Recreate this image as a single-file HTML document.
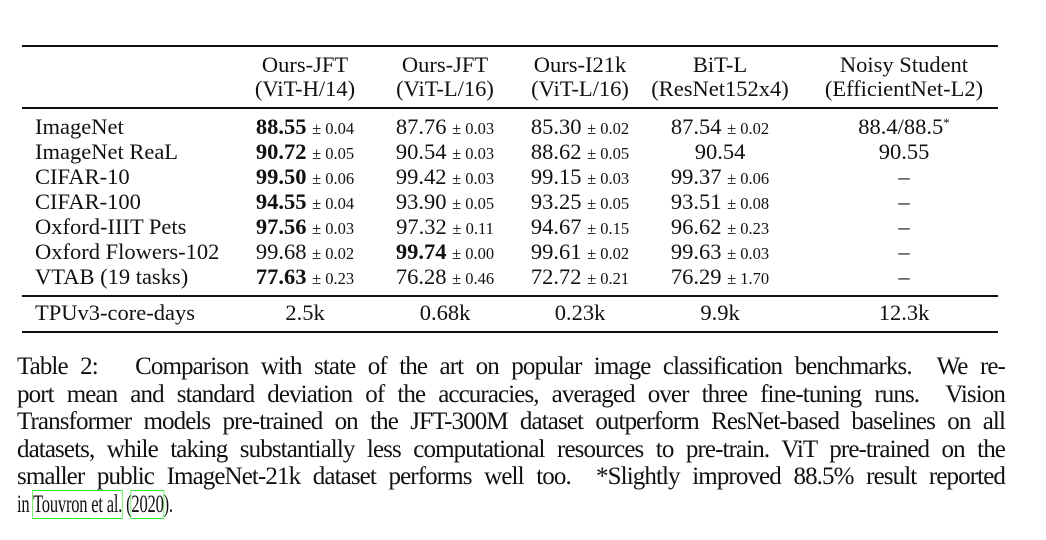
<!DOCTYPE html>
<html><head><meta charset="utf-8"><style>
body{margin:0;width:1046px;height:540px;background:#fff;position:relative;font-family:"Liberation Serif",serif;color:#111;overflow:hidden}
.r{position:absolute;left:22px;width:976px;background:#111}
.c{position:absolute;transform:translateX(-50%);white-space:nowrap;font-size:22.5px;line-height:24px}
.l{position:absolute;left:35px;white-space:nowrap;font-size:22.5px;line-height:24px}
.s{font-size:16.5px}
b{font-weight:bold}
.cap{position:absolute;left:17px;width:988px;font-size:25px;line-height:27.6px;top:353px;text-align:justify;text-align-last:justify;letter-spacing:-0.9px;word-spacing:-2px}
.cap div{white-space:nowrap;height:27.6px}
.box{outline:1.5px solid #2ee82e;outline-offset:0}
</style></head><body>
<div class="r" style="top:45px;height:2px"></div>
<div class="r" style="top:107px;height:1.5px"></div>
<div class="r" style="top:295px;height:1.5px"></div>
<div class="r" style="top:331px;height:2px"></div>

<div class="c" style="left:305px;top:53px">Ours-JFT</div>
<div class="c" style="left:305px;top:77px">(ViT-H/14)</div>
<div class="c" style="left:445px;top:53px">Ours-JFT</div>
<div class="c" style="left:445px;top:77px">(ViT-L/16)</div>
<div class="c" style="left:580px;top:53px">Ours-I21k</div>
<div class="c" style="left:580px;top:77px">(ViT-L/16)</div>
<div class="c" style="left:720px;top:53px">BiT-L</div>
<div class="c" style="left:720px;top:77px">(ResNet152x4)</div>
<div class="c" style="left:904px;top:53px">Noisy Student</div>
<div class="c" style="left:904px;top:77px">(EfficientNet-L2)</div>

<div class="l" style="top:115px">ImageNet</div>
<div class="l" style="top:140px">ImageNet ReaL</div>
<div class="l" style="top:165px">CIFAR-10</div>
<div class="l" style="top:190px">CIFAR-100</div>
<div class="l" style="top:215px">Oxford-IIIT Pets</div>
<div class="l" style="top:240px">Oxford Flowers-102</div>
<div class="l" style="top:265px">VTAB (19 tasks)</div>
<div class="l" style="top:301px">TPUv3-core-days</div>

<div class="c" style="left:305px;top:115px"><b>88.55</b> <span class="s">± 0.04</span></div>
<div class="c" style="left:305px;top:140px"><b>90.72</b> <span class="s">± 0.05</span></div>
<div class="c" style="left:305px;top:165px"><b>99.50</b> <span class="s">± 0.06</span></div>
<div class="c" style="left:305px;top:190px"><b>94.55</b> <span class="s">± 0.04</span></div>
<div class="c" style="left:305px;top:215px"><b>97.56</b> <span class="s">± 0.03</span></div>
<div class="c" style="left:305px;top:240px">99.68 <span class="s">± 0.02</span></div>
<div class="c" style="left:305px;top:265px"><b>77.63</b> <span class="s">± 0.23</span></div>
<div class="c" style="left:305px;top:301px">2.5k</div>

<div class="c" style="left:445px;top:115px">87.76 <span class="s">± 0.03</span></div>
<div class="c" style="left:445px;top:140px">90.54 <span class="s">± 0.03</span></div>
<div class="c" style="left:445px;top:165px">99.42 <span class="s">± 0.03</span></div>
<div class="c" style="left:445px;top:190px">93.90 <span class="s">± 0.05</span></div>
<div class="c" style="left:445px;top:215px">97.32 <span class="s">± 0.11</span></div>
<div class="c" style="left:445px;top:240px"><b>99.74</b> <span class="s">± 0.00</span></div>
<div class="c" style="left:445px;top:265px">76.28 <span class="s">± 0.46</span></div>
<div class="c" style="left:445px;top:301px">0.68k</div>

<div class="c" style="left:580px;top:115px">85.30 <span class="s">± 0.02</span></div>
<div class="c" style="left:580px;top:140px">88.62 <span class="s">± 0.05</span></div>
<div class="c" style="left:580px;top:165px">99.15 <span class="s">± 0.03</span></div>
<div class="c" style="left:580px;top:190px">93.25 <span class="s">± 0.05</span></div>
<div class="c" style="left:580px;top:215px">94.67 <span class="s">± 0.15</span></div>
<div class="c" style="left:580px;top:240px">99.61 <span class="s">± 0.02</span></div>
<div class="c" style="left:580px;top:265px">72.72 <span class="s">± 0.21</span></div>
<div class="c" style="left:580px;top:301px">0.23k</div>

<div class="c" style="left:720px;top:115px">87.54 <span class="s">± 0.02</span></div>
<div class="c" style="left:720px;top:140px">90.54</div>
<div class="c" style="left:720px;top:165px">99.37 <span class="s">± 0.06</span></div>
<div class="c" style="left:720px;top:190px">93.51 <span class="s">± 0.08</span></div>
<div class="c" style="left:720px;top:215px">96.62 <span class="s">± 0.23</span></div>
<div class="c" style="left:720px;top:240px">99.63 <span class="s">± 0.03</span></div>
<div class="c" style="left:720px;top:265px">76.29 <span class="s">± 1.70</span></div>
<div class="c" style="left:720px;top:301px">9.9k</div>

<div class="c" style="left:904px;top:115px">88.4/88.5<span style="font-size:13px;position:relative;top:-7px">*</span></div>
<div class="c" style="left:904px;top:140px">90.55</div>
<div class="c" style="left:904px;top:165px">–</div>
<div class="c" style="left:904px;top:190px">–</div>
<div class="c" style="left:904px;top:215px">–</div>
<div class="c" style="left:904px;top:240px">–</div>
<div class="c" style="left:904px;top:265px">–</div>
<div class="c" style="left:904px;top:301px">12.3k</div>

<div class="cap">
<div>Table 2: &nbsp; Comparison with state of the art on popular image classification benchmarks. &nbsp;We re-</div>
<div>port mean and standard deviation of the accuracies, averaged over three fine-tuning runs. &nbsp;Vision</div>
<div>Transformer models pre-trained on the JFT-300M dataset outperform ResNet-based baselines on all</div>
<div>datasets, while taking substantially less computational resources to pre-train. ViT pre-trained on the</div>
<div>smaller public ImageNet-21k dataset performs well too. &nbsp;*Slightly improved 88.5% result reported</div>
<div style="text-align:left;text-align-last:left;letter-spacing:-0.3px;word-spacing:0"><span style="display:inline-block;transform:scaleX(0.66);transform-origin:left center">in <span class="box">Touvron et al.</span> (<span class="box">2020</span>).</span></div>
</div>
</body></html>
